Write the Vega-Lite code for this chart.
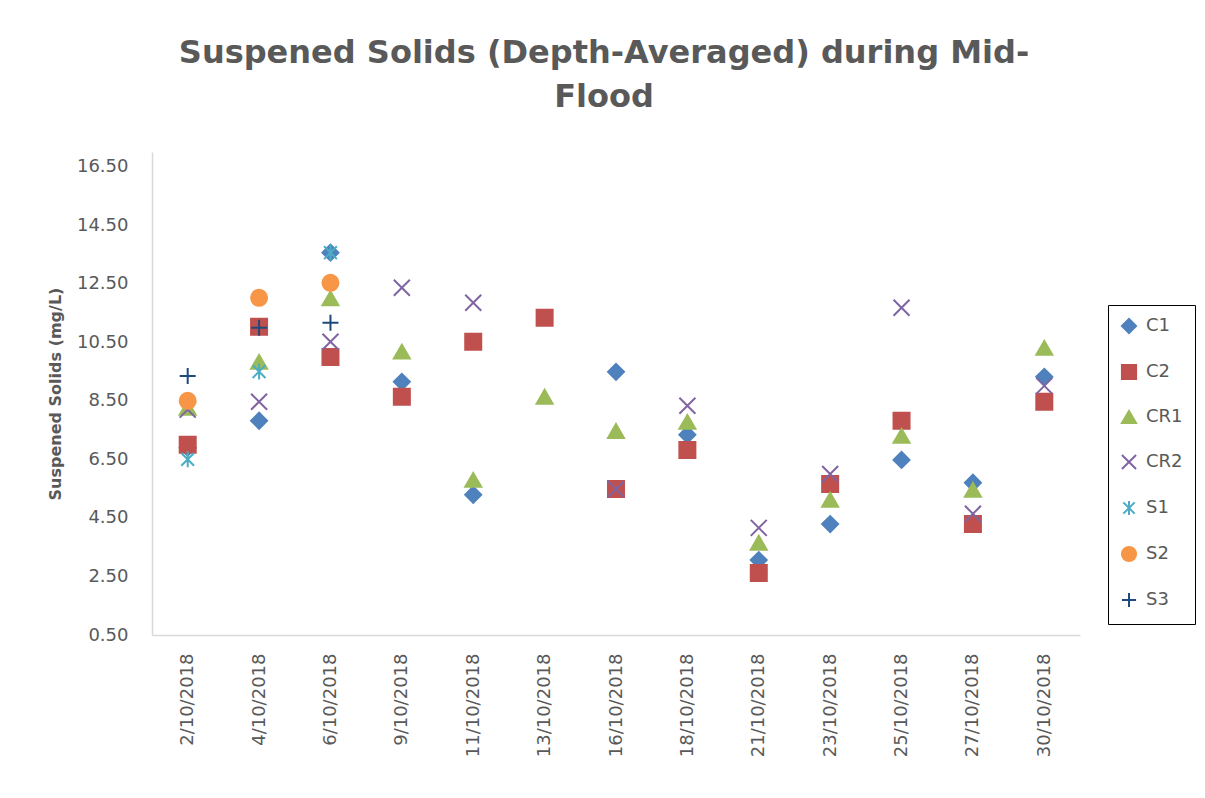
{
  "$schema": "https://vega.github.io/schema/vega-lite/v6.json",
  "autosize": {"type": "none"},
  "padding": {"left": 152, "top": 152, "right": 125, "bottom": 163},
  "width": 928,
  "height": 483,
  "background": "white",
  "title": {
    "text": ["Suspened Solids (Depth-Averaged) during Mid-", "Flood"],
    "font": "DejaVu Sans",
    "fontSize": 32,
    "fontWeight": "bold",
    "color": "#595959",
    "anchor": "middle",
    "dx": -12,
    "offset": 38,
    "lineHeight": 44
  },
  "data": {
    "values": [
      {"date": "2/10/2018", "series": "C1", "value": 6.9},
      {"date": "2/10/2018", "series": "C2", "value": 7.0},
      {"date": "2/10/2018", "series": "CR1", "value": 8.26},
      {"date": "2/10/2018", "series": "CR2", "value": 8.2},
      {"date": "2/10/2018", "series": "S1", "value": 6.5},
      {"date": "2/10/2018", "series": "S2", "value": 8.5},
      {"date": "2/10/2018", "series": "S3", "value": 9.35},
      {"date": "4/10/2018", "series": "C1", "value": 7.82},
      {"date": "4/10/2018", "series": "C2", "value": 11.03},
      {"date": "4/10/2018", "series": "CR1", "value": 9.83},
      {"date": "4/10/2018", "series": "CR2", "value": 8.47},
      {"date": "4/10/2018", "series": "S1", "value": 9.5},
      {"date": "4/10/2018", "series": "S2", "value": 12.02},
      {"date": "4/10/2018", "series": "S3", "value": 11.0},
      {"date": "6/10/2018", "series": "C1", "value": 13.56},
      {"date": "6/10/2018", "series": "C2", "value": 10.0},
      {"date": "6/10/2018", "series": "CR1", "value": 12.0},
      {"date": "6/10/2018", "series": "CR2", "value": 10.52},
      {"date": "6/10/2018", "series": "S1", "value": 13.56},
      {"date": "6/10/2018", "series": "S2", "value": 12.53},
      {"date": "6/10/2018", "series": "S3", "value": 11.17},
      {"date": "9/10/2018", "series": "C1", "value": 9.15},
      {"date": "9/10/2018", "series": "C2", "value": 8.64},
      {"date": "9/10/2018", "series": "CR1", "value": 10.18},
      {"date": "9/10/2018", "series": "CR2", "value": 12.36},
      {"date": "11/10/2018", "series": "C1", "value": 5.29},
      {"date": "11/10/2018", "series": "C2", "value": 10.52},
      {"date": "11/10/2018", "series": "CR1", "value": 5.8},
      {"date": "11/10/2018", "series": "CR2", "value": 11.85},
      {"date": "13/10/2018", "series": "C2", "value": 11.34},
      {"date": "13/10/2018", "series": "CR1", "value": 8.64},
      {"date": "16/10/2018", "series": "C1", "value": 9.49},
      {"date": "16/10/2018", "series": "C2", "value": 5.49},
      {"date": "16/10/2018", "series": "CR1", "value": 7.47},
      {"date": "16/10/2018", "series": "CR2", "value": 5.49},
      {"date": "18/10/2018", "series": "C1", "value": 7.34},
      {"date": "18/10/2018", "series": "C2", "value": 6.82},
      {"date": "18/10/2018", "series": "CR1", "value": 7.78},
      {"date": "18/10/2018", "series": "CR2", "value": 8.33},
      {"date": "21/10/2018", "series": "C1", "value": 3.06},
      {"date": "21/10/2018", "series": "C2", "value": 2.62},
      {"date": "21/10/2018", "series": "CR1", "value": 3.65},
      {"date": "21/10/2018", "series": "CR2", "value": 4.16},
      {"date": "23/10/2018", "series": "C1", "value": 4.29},
      {"date": "23/10/2018", "series": "C2", "value": 5.66},
      {"date": "23/10/2018", "series": "CR1", "value": 5.12},
      {"date": "23/10/2018", "series": "CR2", "value": 6.0},
      {"date": "25/10/2018", "series": "C1", "value": 6.48},
      {"date": "25/10/2018", "series": "C2", "value": 7.82},
      {"date": "25/10/2018", "series": "CR1", "value": 7.3},
      {"date": "25/10/2018", "series": "CR2", "value": 11.68},
      {"date": "27/10/2018", "series": "C1", "value": 5.7},
      {"date": "27/10/2018", "series": "C2", "value": 4.29},
      {"date": "27/10/2018", "series": "CR1", "value": 5.46},
      {"date": "27/10/2018", "series": "CR2", "value": 4.64},
      {"date": "30/10/2018", "series": "C1", "value": 9.32},
      {"date": "30/10/2018", "series": "C2", "value": 8.47},
      {"date": "30/10/2018", "series": "CR1", "value": 10.31},
      {"date": "30/10/2018", "series": "CR2", "value": 9.01}
    ]
  },
  "mark": {"type": "point", "filled": false, "strokeWidth": 2, "size": 256, "opacity": 1},
  "encoding": {
    "x": {
      "field": "date",
      "type": "nominal",
      "sort": ["2/10/2018", "4/10/2018", "6/10/2018", "9/10/2018", "11/10/2018", "13/10/2018", "16/10/2018", "18/10/2018", "21/10/2018", "23/10/2018", "25/10/2018", "27/10/2018", "30/10/2018"],
      "scale": {"type": "point", "padding": 0.5},
      "axis": {
        "title": null,
        "labelAngle": -90,
        "labelFont": "DejaVu Sans",
        "labelFontSize": 18,
        "labelColor": "#595959",
        "labelPadding": 18,
        "ticks": false,
        "grid": false,
        "domainColor": "#D9D9D9",
        "domainWidth": 1.5
      }
    },
    "y": {
      "field": "value",
      "type": "quantitative",
      "scale": {"domain": [0.5, 17], "nice": false, "zero": false},
      "axis": {
        "title": "Suspened Solids (mg/L)",
        "titleFont": "DejaVu Sans",
        "titleFontSize": 16,
        "titleFontWeight": "bold",
        "titleColor": "#595959",
        "titlePadding": 13,
        "values": [0.5, 2.5, 4.5, 6.5, 8.5, 10.5, 12.5, 14.5, 16.5],
        "format": ".2f",
        "labelFont": "DejaVu Sans",
        "labelFontSize": 18,
        "labelColor": "#595959",
        "labelPadding": 24,
        "ticks": false,
        "grid": false,
        "domainColor": "#D9D9D9",
        "domainWidth": 1.5
      }
    },
    "color": {
      "field": "series",
      "type": "nominal",
      "scale": {
        "domain": ["C1", "C2", "CR1", "CR2", "S1", "S2", "S3"],
        "range": ["#4F81BD", "#C0504D", "#9BBB59", "#8064A2", "#4BACC6", "#F79646", "#1F497D"]
      },
      "legend": {
        "title": null,
        "orient": "none",
        "legendX": 956,
        "legendY": 153,
        "padding": 12,
        "strokeColor": "#000000",
        "labelFont": "DejaVu Sans",
        "labelFontSize": 18,
        "labelColor": "#595959",
        "labelOffset": 8,
        "rowPadding": 22,
        "symbolSize": 200,
        "symbolStrokeWidth": 2
      }
    },
    "fill": {
      "field": "series",
      "type": "nominal",
      "scale": {
        "domain": ["C1", "C2", "CR1", "CR2", "S1", "S2", "S3"],
        "range": ["#4F81BD", "#C0504D", "#9BBB59", "transparent", "transparent", "#F79646", "transparent"]
      },
      "legend": {
        "title": null,
        "orient": "none",
        "legendX": 956,
        "legendY": 153,
        "padding": 12,
        "strokeColor": "#000000",
        "labelFont": "DejaVu Sans",
        "labelFontSize": 18,
        "labelColor": "#595959",
        "labelOffset": 8,
        "rowPadding": 22,
        "symbolSize": 200,
        "symbolStrokeWidth": 2
      }
    },
    "shape": {
      "field": "series",
      "type": "nominal",
      "scale": {
        "domain": ["C1", "C2", "CR1", "CR2", "S1", "S2", "S3"],
        "range": ["diamond", "square", "triangle-up", "M-1,-1L1,1M-1,1L1,-1", "M-0.8,-0.8L0.8,0.8M-0.8,0.8L0.8,-0.8M0,-1L0,1", "circle", "M-1,0L1,0M0,-1L0,1"]
      },
      "legend": {
        "title": null,
        "orient": "none",
        "legendX": 956,
        "legendY": 153,
        "padding": 12,
        "strokeColor": "#000000",
        "labelFont": "DejaVu Sans",
        "labelFontSize": 18,
        "labelColor": "#595959",
        "labelOffset": 8,
        "rowPadding": 22,
        "symbolSize": 200,
        "symbolStrokeWidth": 2
      }
    }
  },
  "config": {
    "view": {"stroke": null}
  }
}
